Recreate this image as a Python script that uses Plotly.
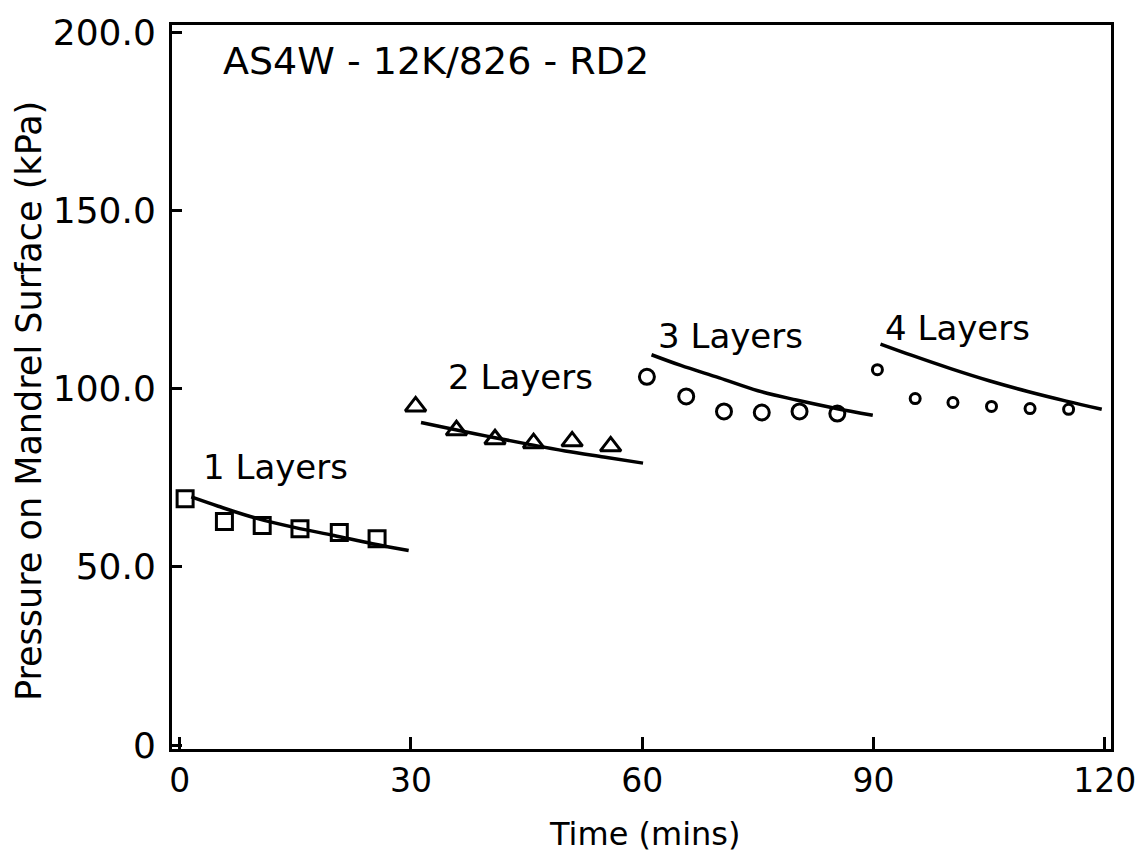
import plotly.graph_objects as go

# ---- data ----
t1 = [0.7, 5.8, 10.7, 15.6, 20.7, 25.6]
p1 = [69.1, 62.7, 61.6, 60.7, 59.6, 57.9]
t2 = [30.6, 35.9, 40.9, 45.9, 50.9, 55.9]
p2 = [95.0, 88.3, 85.8, 84.7, 85.2, 83.8]
t3 = [60.6, 65.7, 70.6, 75.5, 80.4, 85.3]
p3 = [103.3, 97.8, 93.6, 93.3, 93.6, 93.0]
t4 = [90.5, 95.4, 100.3, 105.3, 110.3, 115.3]
p4 = [105.3, 97.2, 96.1, 95.0, 94.4, 94.2]

# model curves
m1_t = [1.5, 5, 10, 15, 20, 25, 29.7]
m1_p = [69.6, 67.0, 63.6, 61.0, 58.8, 56.5, 54.6]
m2_t = [31.3, 35, 40, 45, 50, 55, 60.1]
m2_p = [90.5, 88.8, 86.6, 84.5, 82.5, 80.8, 79.1]
m3_t = [61.2, 65, 70, 75, 80, 85, 89.9]
m3_p = [109.5, 106.5, 103.0, 99.4, 96.8, 94.5, 92.5]
m4_t = [90.9, 95, 100, 105, 110, 115, 119.6]
m4_p = [112.5, 109.3, 105.6, 102.2, 99.2, 96.5, 94.2]

x_ticks = [0, 30, 60, 90, 120]
x_ticklabels = ["0", "30", "60", "90", "120"]
y_ticks = [0, 50, 100, 150, 200]
y_ticklabels = ["0", "50.0", "100.0", "150.0", "200.0"]

labels = ["1 Layers", "2 Layers", "3 Layers", "4 Layers"]
label_x = [12.4, 44.2, 71.5, 100.9]
label_y = [78.0, 103.3, 114.8, 117.0]

FONT = "DejaVu Sans"

fig = go.Figure()
for mt, mp in [(m1_t, m1_p), (m2_t, m2_p), (m3_t, m3_p), (m4_t, m4_p)]:
    fig.add_trace(go.Scatter(x=mt, y=mp, mode="lines", line=dict(color="black", width=3.5, shape="spline"),
                             showlegend=False, hoverinfo="skip"))

fig.add_trace(go.Scatter(x=t1, y=p1, mode="markers",
                         marker=dict(symbol="square-open", size=16, color="black", line=dict(width=3))))
fig.add_trace(go.Scatter(x=t2, y=p2, mode="markers",
                         marker=dict(symbol="triangle-up-open", size=18, color="black", line=dict(width=3))))
fig.add_trace(go.Scatter(x=t3, y=p3, mode="markers",
                         marker=dict(symbol="circle-open", size=15, color="black", line=dict(width=3))))
fig.add_trace(go.Scatter(x=t4, y=p4, mode="markers",
                         marker=dict(symbol="circle-open", size=10, color="black", line=dict(width=3))))

annotations = []
for txt, lx, ly in zip(labels, label_x, label_y):
    annotations.append(dict(x=lx, y=ly, xref="x", yref="y", text=txt, showarrow=False,
                            font=dict(family=FONT, size=34, color="black")))
annotations.append(dict(x=33.2, y=192.0, xref="x", yref="y", text="AS4W - 12K/826 - RD2", showarrow=False,
                        font=dict(family=FONT, size=38, color="black")))
annotations.append(dict(x=0.503, y=-0.118, xref="paper", yref="paper", text="Time (mins)", showarrow=False,
                        font=dict(family=FONT, size=32, color="black"), yanchor="middle"))
annotations.append(dict(x=-0.153, y=0.481, xref="paper", yref="paper", text="Pressure on Mandrel Surface (kPa)",
                        showarrow=False, textangle=-90, font=dict(family=FONT, size=35, color="black"),
                        xanchor="center", yanchor="middle"))

fig.update_layout(
    width=1148, height=862,
    margin=dict(l=172, r=35, t=20, b=113),
    paper_bgcolor="white", plot_bgcolor="white",
    showlegend=False,
    annotations=annotations,
    font=dict(family=FONT, color="black"),
)
fig.update_xaxes(range=[-1.0, 120.8], tickmode="array", tickvals=x_ticks, ticktext=x_ticklabels,
                 ticks="inside", ticklen=12, tickwidth=2.5, tickcolor="black",
                 showline=True, linewidth=3, linecolor="black", mirror=True,
                 showgrid=False, zeroline=False, tickfont=dict(family=FONT, size=33, color="black"))
fig.update_yaxes(range=[-1.1, 202.0], tickmode="array", tickvals=y_ticks, ticktext=y_ticklabels,
                 ticks="inside", ticklen=10, tickwidth=2.5, tickcolor="black",
                 showline=True, linewidth=3, linecolor="black", mirror=True,
                 showgrid=False, zeroline=False, tickfont=dict(family=FONT, size=36, color="black"),
                 ticklabelstandoff=6)

fig.write_html("out.html")
